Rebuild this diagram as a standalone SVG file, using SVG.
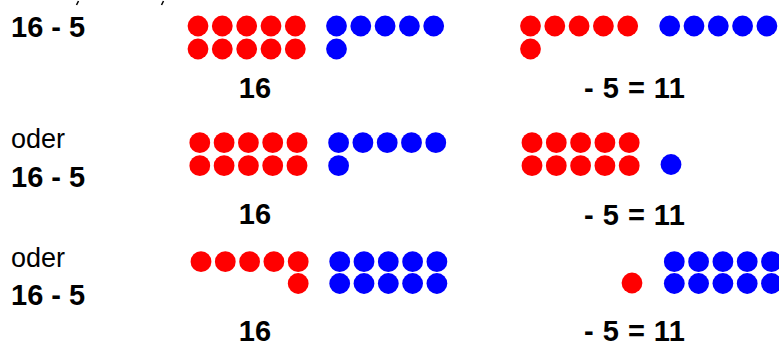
<svg xmlns="http://www.w3.org/2000/svg" width="779" height="345" viewBox="0 0 779 345">
<defs>
<style>
.r{fill:#ff0000}
.b{fill:#0000ff}
.t{font-family:"Liberation Sans",Arial,sans-serif;font-weight:bold;font-size:29px;fill:#000}
.o{font-family:"Liberation Sans",Arial,sans-serif;font-size:27px;fill:#000}
.tick{stroke:#000;stroke-width:1.5}
</style>
<circle id="d" r="10.4"/>
</defs>
<rect width="779" height="345" fill="#fff"/>
<g id="fragments">
<line class="tick" x1="76.5" y1="5" x2="78.5" y2="1"/>
<line class="tick" x1="161.5" y1="5" x2="163.5" y2="1"/>
</g>
<g id="row1">
<text class="t" x="11" y="37">16 - 5</text>
<g id="row1-left">
<g class="r">
<use href="#d" x="198" y="26"/><use href="#d" x="222.3" y="26"/><use href="#d" x="246.7" y="26"/><use href="#d" x="271" y="26"/><use href="#d" x="295.3" y="26"/>
<use href="#d" x="198" y="49"/><use href="#d" x="222.3" y="49"/><use href="#d" x="246.7" y="49"/><use href="#d" x="271" y="49"/><use href="#d" x="295.3" y="49"/>
</g>
<g class="b">
<use href="#d" x="336.5" y="26"/><use href="#d" x="360.8" y="26"/><use href="#d" x="385.1" y="26"/><use href="#d" x="409.4" y="26"/><use href="#d" x="433.7" y="26"/>
<use href="#d" x="336.5" y="49"/>
</g>
<text class="t" x="255" y="98" text-anchor="middle">16</text>
</g>
<g id="row1-right">
<g class="r">
<use href="#d" x="530.5" y="26"/><use href="#d" x="554.8" y="26"/><use href="#d" x="579.1" y="26"/><use href="#d" x="603.4" y="26"/><use href="#d" x="627.7" y="26"/>
<use href="#d" x="530.5" y="49"/>
</g>
<g class="b">
<use href="#d" x="669.7" y="26"/><use href="#d" x="694" y="26"/><use href="#d" x="718.3" y="26"/><use href="#d" x="742.6" y="26"/><use href="#d" x="766.9" y="26"/>
</g>
<text class="t" x="584" y="98" textLength="101">- 5 = 11</text>
</g>
</g>
<g id="row2">
<text class="o" x="11" y="148">oder</text>
<text class="t" x="11" y="187">16 - 5</text>
<g id="row2-left">
<g class="r">
<use href="#d" x="199.8" y="142.7"/><use href="#d" x="224.1" y="142.7"/><use href="#d" x="248.4" y="142.7"/><use href="#d" x="272.7" y="142.7"/><use href="#d" x="297" y="142.7"/>
<use href="#d" x="199.8" y="165.7"/><use href="#d" x="224.1" y="165.7"/><use href="#d" x="248.4" y="165.7"/><use href="#d" x="272.7" y="165.7"/><use href="#d" x="297" y="165.7"/>
</g>
<g class="b">
<use href="#d" x="338.6" y="142.7"/><use href="#d" x="362.9" y="142.7"/><use href="#d" x="387.2" y="142.7"/><use href="#d" x="411.5" y="142.7"/><use href="#d" x="435.8" y="142.7"/>
<use href="#d" x="338.6" y="165.7"/>
</g>
<text class="t" x="255" y="224" text-anchor="middle">16</text>
</g>
<g id="row2-right">
<g class="r">
<use href="#d" x="532" y="142.7"/><use href="#d" x="556.3" y="142.7"/><use href="#d" x="580.6" y="142.7"/><use href="#d" x="604.9" y="142.7"/><use href="#d" x="629.2" y="142.7"/>
<use href="#d" x="532" y="165.7"/><use href="#d" x="556.3" y="165.7"/><use href="#d" x="580.6" y="165.7"/><use href="#d" x="604.9" y="165.7"/><use href="#d" x="629.2" y="165.7"/>
</g>
<g class="b">
<use href="#d" x="671" y="164.5"/>
</g>
<text class="t" x="584" y="225" textLength="101">- 5 = 11</text>
</g>
</g>
<g id="row3">
<text class="o" x="11" y="267">oder</text>
<text class="t" x="11" y="305">16 - 5</text>
<g id="row3-left">
<g class="r">
<use href="#d" x="201" y="261.7"/><use href="#d" x="225.3" y="261.7"/><use href="#d" x="249.6" y="261.7"/><use href="#d" x="273.9" y="261.7"/><use href="#d" x="298.2" y="261.7"/>
<use href="#d" x="298.2" y="283.5"/>
</g>
<g class="b">
<use href="#d" x="339.7" y="261.7"/><use href="#d" x="364" y="261.7"/><use href="#d" x="388.3" y="261.7"/><use href="#d" x="412.6" y="261.7"/><use href="#d" x="436.9" y="261.7"/>
<use href="#d" x="339.7" y="283.5"/><use href="#d" x="364" y="283.5"/><use href="#d" x="388.3" y="283.5"/><use href="#d" x="412.6" y="283.5"/><use href="#d" x="436.9" y="283.5"/>
</g>
<text class="t" x="255" y="341" text-anchor="middle">16</text>
</g>
<g id="row3-right">
<g class="r">
<use href="#d" x="632" y="283"/>
</g>
<g class="b">
<use href="#d" x="674.3" y="261.7"/><use href="#d" x="698.6" y="261.7"/><use href="#d" x="722.9" y="261.7"/><use href="#d" x="747.2" y="261.7"/><use href="#d" x="771.5" y="261.7"/>
<use href="#d" x="674.3" y="283.5"/><use href="#d" x="698.6" y="283.5"/><use href="#d" x="722.9" y="283.5"/><use href="#d" x="747.2" y="283.5"/><use href="#d" x="771.5" y="283.5"/>
</g>
<text class="t" x="584" y="341" textLength="101">- 5 = 11</text>
</g>
</g>
</svg>
